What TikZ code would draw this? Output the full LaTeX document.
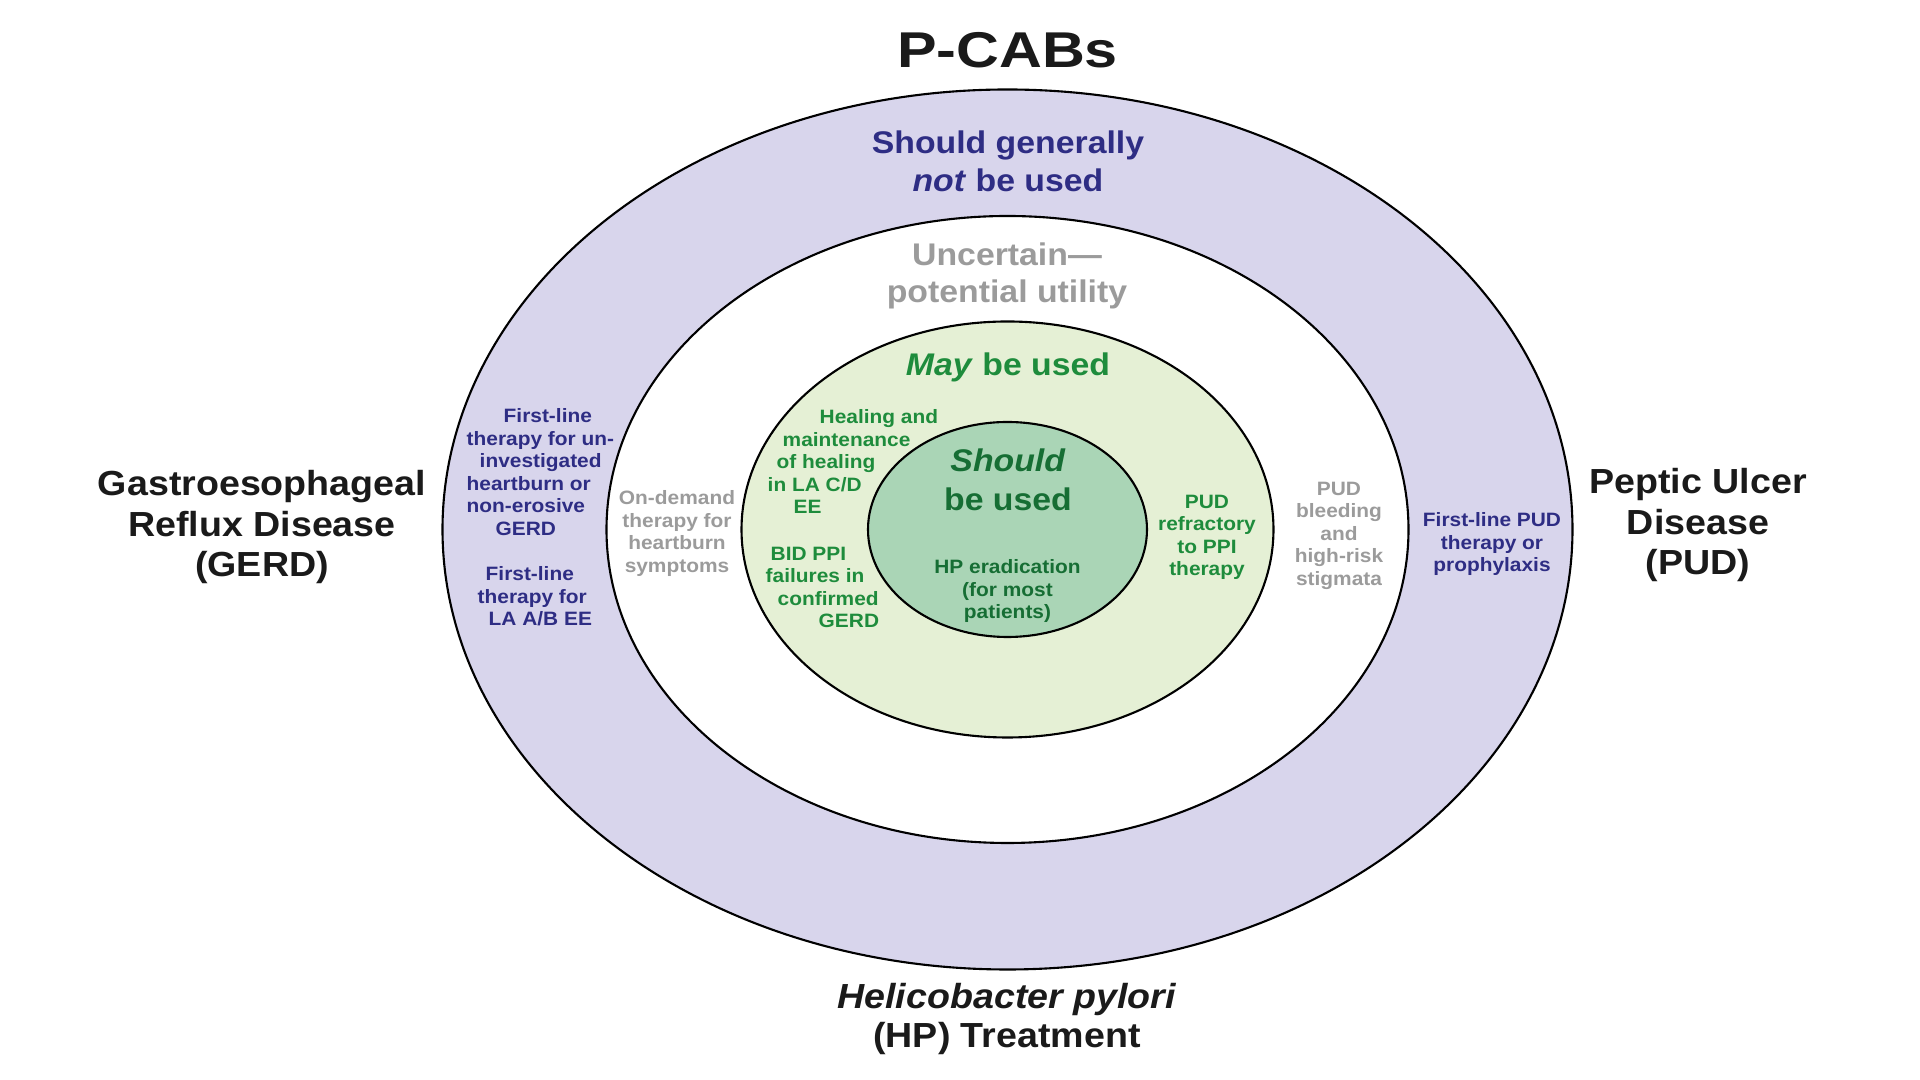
\documentclass[tikz,border=0pt]{standalone}
\usepackage{fontspec}
\setmainfont{Liberation Sans}[FakeStretch=1.08]
\newfontfamily\titlefont{Liberation Sans}[FakeStretch=1.18]
\usepackage{xcolor}
\definecolor{Lavender}{HTML}{D8D5EC}
\definecolor{PaleGreen}{HTML}{E5F0D5}
\definecolor{MintGreen}{HTML}{AAD5B6}
\definecolor{Navy}{HTML}{2E2D84}
\definecolor{Leaf}{HTML}{1E8C3C}
\definecolor{Forest}{HTML}{166E34}
\definecolor{Slate}{HTML}{9B9B9B}
\definecolor{Ink}{HTML}{1A1A1A}

\begin{document}
\begin{tikzpicture}[
  x=0.01cm, y=-0.01cm,
  ring/.style={draw=black,line width=0.6pt},
  labeltxt/.style={font=\fontsize{9.9pt}{#1}\selectfont\bfseries,text=Ink,align=center,inner sep=0pt},
  labeltxt/.default=11.5pt,
  zonetxt/.style={font=\fontsize{8.9pt}{#1}\selectfont\bfseries,align=center,inner sep=0pt},
  zonetxt/.default=10.8pt,
  notetxt/.style={font=\fontsize{5.5pt}{6.4pt}\selectfont\bfseries,inner sep=0pt}
]
\path[fill=white] (0,0) rectangle (1920,1080);
% rings
\coordinate (ctr) at (1007.5,529.5);
\draw[ring,fill=Lavender] (ctr) ellipse [x radius=565, y radius=440];
\draw[ring,fill=white] (ctr) ellipse [x radius=401, y radius=313.5];
\draw[ring,fill=PaleGreen] (ctr) ellipse [x radius=266, y radius=208];
\draw[ring,fill=MintGreen] (ctr) ellipse [x radius=139.5, y radius=107.5];
% headings
\node[inner sep=0pt,anchor=base,text=Ink,font=\titlefont\fontsize{14.3pt}{16pt}\selectfont\bfseries] (title) at (1007.5,68) {P-CABs};
\node[zonetxt,text=Navy,anchor=north] (notused) at (1008,130) {Should generally\\\textit{not} be used};
\node[zonetxt=10.5pt,text=Slate,anchor=north] (uncertain) at (1007,242) {Uncertain—\\potential utility};
\node[zonetxt,text=Leaf,anchor=base] (mayuse) at (1008,376) {\textit{May} be used};
\node[zonetxt=11.1pt,text=Forest,anchor=north] (shoulduse) at (1008,448) {\textit{Should}\\be used};
% notes
\node[notetxt,text=Navy,align=left,anchor=north west] (uninv) at (466,408) {\hspace*{3.7mm}First-line\\therapy for un-\\\hspace*{1.3mm}investigated\\heartburn or\\non-erosive\\\hspace*{2.9mm}GERD};
\node[notetxt,text=Navy,align=left,anchor=north west] (laab) at (477,566) {\hspace*{0.8mm}First-line\\therapy for\\\hspace*{1.1mm}LA A/B EE};
\node[notetxt,text=Slate,align=center,anchor=north] (ondemand) at (677,490) {On-demand\\therapy for\\heartburn\\symptoms};
\node[notetxt,text=Leaf,align=left,anchor=north west] (heal) at (767,409) {\hspace*{5.2mm}Healing and\\\hspace*{1.5mm}maintenance\\\hspace*{0.9mm}of healing\\in LA C/D\\\hspace*{2.6mm}EE};
\node[notetxt,text=Leaf,align=left,anchor=north west] (bid) at (765,546) {\hspace*{0.5mm}BID PPI\\failures in\\\hspace*{1.2mm}confirmed\\\hspace*{5.3mm}GERD};
\node[notetxt,text=Forest,align=center,anchor=north] (hperad) at (1007.5,559) {HP eradication\\(for most\\patients)};
\node[notetxt,text=Leaf,align=center,anchor=north] (refract) at (1207,494) {PUD\\refractory\\to PPI\\therapy};
\node[notetxt,text=Slate,align=center,anchor=north] (bleed) at (1339,481) {PUD\\bleeding\\and\\high-risk\\stigmata};
\node[notetxt,text=Navy,align=center,anchor=north] (pudfirst) at (1492,512) {First-line PUD\\therapy or\\prophylaxis};
% side labels
\node[labeltxt,anchor=north] (gerd) at (262,470) {Gastroesophageal\\Reflux Disease\\(GERD)};
\node[labeltxt,anchor=north] (pud) at (1698,468) {Peptic Ulcer\\Disease\\(PUD)};
\node[labeltxt=11.1pt,anchor=north] (hp) at (1007,983) {\textit{Helicobacter pylori}\\(HP) Treatment};
\end{tikzpicture}
\end{document}
